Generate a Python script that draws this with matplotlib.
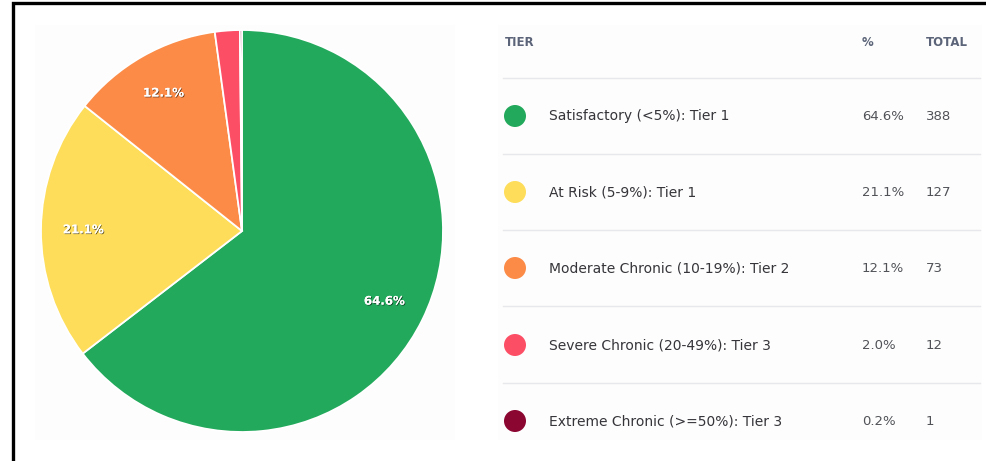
import matplotlib.pyplot as plt
import matplotlib.patheffects as pe
from matplotlib.patches import Rectangle, Circle

tiers = ['Satisfactory (<5%): Tier 1', 'At Risk (5-9%): Tier 1',
         'Moderate Chronic (10-19%): Tier 2', 'Severe Chronic (20-49%): Tier 3',
         'Extreme Chronic (>=50%): Tier 3']
pcts = ['64.6%', '21.1%', '12.1%', '2.0%', '0.2%']
totals = [388, 127, 73, 12, 1]
colors = ['#22a95b', '#fddd59', '#fb8b47', '#fc4f66', '#8c0632']

plt.rcParams['font.family'] = ['DejaVu Sans']

W, H = 986, 461
fig = plt.figure(figsize=(W / 100, H / 100), dpi=100)
fig.patch.set_facecolor('white')

# background layer in pixel coords
bg = fig.add_axes([0, 0, 1, 1])
bg.set_xlim(0, W)
bg.set_ylim(H, 0)
bg.axis('off')
bg.add_patch(Rectangle((35, 25), 420, 415, facecolor='#fdfdfd', edgecolor='none'))
bg.add_patch(Rectangle((498, 25), 484, 415, facecolor='#fdfdfd', edgecolor='none'))
bg.plot([13, 13, W], [H, 3, 3], color='black', lw=2.4, solid_joinstyle='miter')

# pie
cx, cy, r = 242, 231, 201
pax = fig.add_axes([(cx - r) / W, (H - cy - r) / H, 2 * r / W, 2 * r / H])
wedges, _, autotexts = pax.pie(totals, colors=colors, startangle=90, counterclock=False,
                               autopct=lambda p: '%.1f%%' % p if p > 5 else '',
                               pctdistance=0.79,
                               wedgeprops=dict(edgecolor='white', linewidth=1.3),
                               textprops=dict(color='white', fontsize=8.5, fontweight='bold'))
for t in autotexts:
    t.set_path_effects([pe.withSimplePatchShadow(offset=(0.6, -0.6), shadow_rgbFace='black', alpha=0.6),
                        pe.Normal()])
pax.set_xlim(-1, 1)
pax.set_ylim(-1, 1)
pax.set_aspect('auto')

# table
hdr = dict(color='#5b6478', fontsize=8.5, fontweight='bold', va='center')
bg.text(505, 42, 'TIER', **hdr)
bg.text(862, 42, '%', **hdr)
bg.text(926, 42, 'TOTAL', **hdr)

row_y = [116, 192, 268, 345, 421]
for y in [78, 154, 230, 306, 383]:
    bg.plot([503, 980], [y, y], color='#e6e8eb', lw=1)

for i, y in enumerate(row_y):
    bg.add_patch(Circle((515, y), 11, facecolor=colors[i], edgecolor='none'))
    bg.text(549, y, tiers[i], color='#35353a', fontsize=10, va='center')
    bg.text(862, y, pcts[i], color='#505257', fontsize=9.5, va='center')
    bg.text(926, y, str(totals[i]), color='#505257', fontsize=9.5, va='center')

fig.savefig('out.png', dpi=100)
